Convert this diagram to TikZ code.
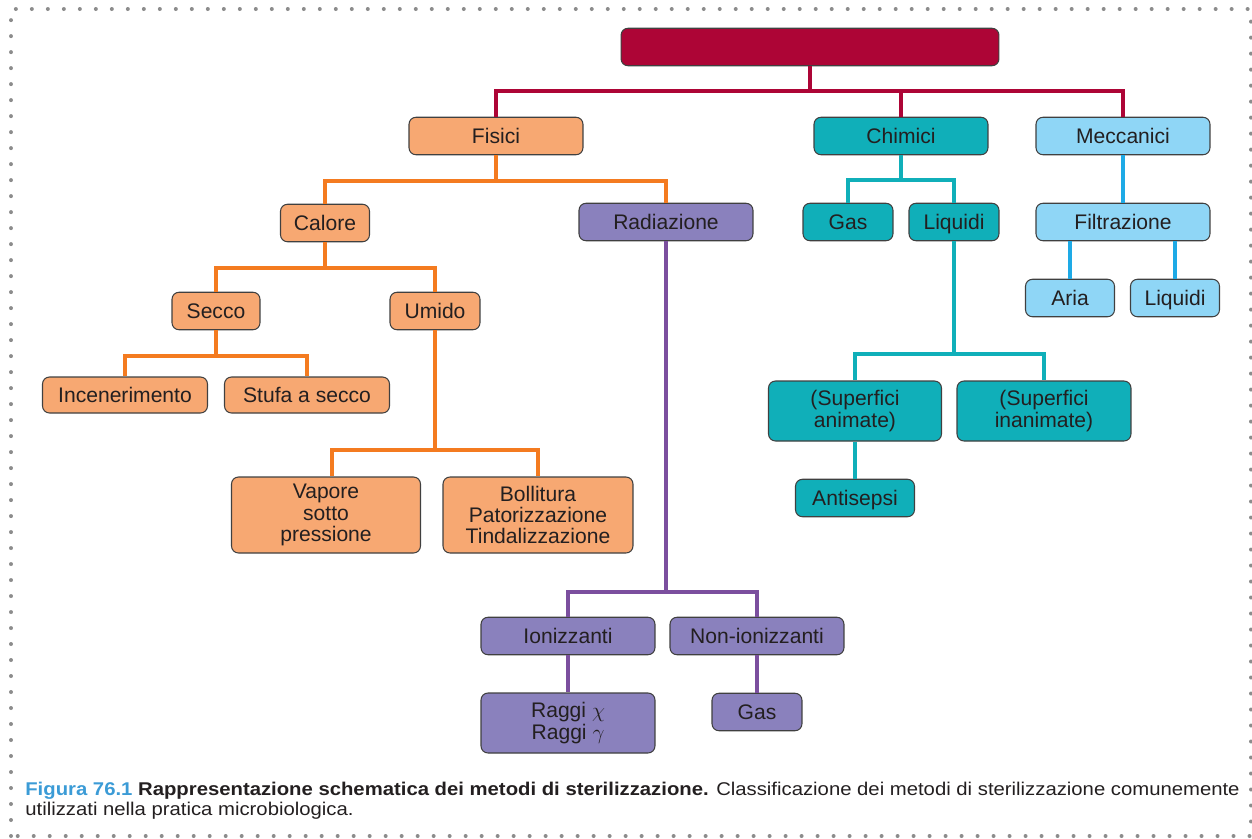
\documentclass[tikz,border=0pt]{standalone}
\usepackage{fontspec}
\setmainfont{Liberation Sans}
\newfontfamily\capfont[FakeStretch=1.1]{Liberation Sans}
\usepackage{xcolor}

\definecolor{rosso}{HTML}{AD0536}
\definecolor{arancio}{HTML}{F47B20}
\definecolor{arancioch}{HTML}{F7A872}
\definecolor{viola}{HTML}{7B4F9E}
\definecolor{violach}{HTML}{8A81BD}
\definecolor{verde}{HTML}{10AFB9}
\definecolor{azzurro}{HTML}{1EAAE6}
\definecolor{azzurroch}{HTML}{8FD6F6}
\definecolor{testo}{HTML}{231F20}
\definecolor{puntini}{HTML}{8C8C8C}
\definecolor{blufig}{HTML}{3B9BD6}

\begin{document}
\begin{tikzpicture}[x=0.02cm,y=-0.02cm,
            box/.style={draw=black!75, line width=0.6pt, rounded corners=0.14cm,
              minimum height=0.75cm, inner sep=0pt, align=center, text=testo,
              font=\fontsize{12}{12}\selectfont},
            uno/.style={box, text height=10pt, text depth=1.4pt},
            link/.style={line width=0.08cm}]
            \useasboundingbox (0,0) rectangle (1252,839);

            % cornice a puntini
            \draw[puntini, line width=0.08cm, line cap=round, dash pattern=on 0pt off 0.32cm]
              (11,836) -- (11,9) -- (1251,9) -- (1251,836) -- cycle;

            % radice
            \node[box, fill=rosso, minimum width=7.56cm] (root) at (810,47) {};

            % primo livello
            \node[uno, fill=arancioch, minimum width=3.48cm] (fisici) at (496,136) {Fisici};
            \node[uno, fill=verde, minimum width=3.48cm] (chimici) at (901,136) {Chimici};
            \node[uno, fill=azzurroch, minimum width=3.48cm] (meccanici) at (1123,136) {Meccanici};

            % fisici
            \node[uno, fill=arancioch, minimum width=1.78cm] (calore) at (325,223) {Calore};
            \node[uno, fill=violach, minimum width=3.48cm] (radiazione) at (666,222) {Radiazione};
            \node[uno, fill=arancioch, minimum width=1.76cm] (secco) at (216,311) {Secco};
            \node[uno, fill=arancioch, minimum width=1.8cm] (umido) at (435,311) {Umido};
            \node[uno, fill=arancioch, minimum width=3.3cm, minimum height=0.72cm] (incenerimento) at (125,395) {Incenerimento};
            \node[uno, fill=arancioch, minimum width=3.3cm, minimum height=0.72cm] (stufa) at (307,395) {Stufa a secco};
            \node[box, fill=arancioch, minimum width=3.78cm, minimum height=1.52cm] (vapore) at (326,515) {Vapore\\sotto\\pressione};
            \node[box, fill=arancioch, minimum width=3.8cm, minimum height=1.52cm] (bollitura) at (538,515) {Bollitura\\Patorizzazione\\Tindalizzazione};

            % radiazione
            \node[uno, fill=violach, minimum width=3.48cm] (ionizzanti) at (568,636) {Ionizzanti};
            \node[uno, fill=violach, minimum width=3.48cm] (nonion) at (757,636) {Non-ionizzanti};
            \node[box, fill=violach, minimum width=3.48cm, minimum height=1.2cm] (raggi) at (568,723) {Raggi $\chi$\\Raggi $\gamma$};
            \node[uno, fill=violach, minimum width=1.8cm] (gasR) at (757,712) {Gas};

            % chimici
            \node[uno, fill=verde, minimum width=1.8cm] (gasC) at (848,222) {Gas};
            \node[uno, fill=verde, minimum width=1.8cm] (liquidiC) at (954,222) {Liquidi};
            \node[box, fill=verde, minimum width=3.46cm, minimum height=1.2cm] (animate) at (855,411) {(Superfici\\animate)};
            \node[box, fill=verde, minimum width=3.48cm, minimum height=1.2cm] (inanimate) at (1044,411) {(Superfici\\inanimate)};
            \node[uno, fill=verde, minimum width=2.38cm] (antisepsi) at (855,498) {Antisepsi};

            % meccanici
            \node[uno, fill=azzurroch, minimum width=3.48cm] (filtrazione) at (1123,222) {Filtrazione};
            \node[uno, fill=azzurroch, minimum width=1.78cm] (aria) at (1070,298) {Aria};
            \node[uno, fill=azzurroch, minimum width=1.78cm] (liquidiM) at (1175,298) {Liquidi};

            % collegamenti
            \draw[link, rosso] (root.south) -- ++(0,25) coordinate (r1);
            \draw[link, rosso] (fisici.north) |- (r1) -| (meccanici.north);
            \draw[link, rosso] (chimici.north) -- (chimici.north |- r1);

            \draw[link, arancio] (fisici.south) -- ++(0,26) coordinate (f1);
            \draw[link, arancio] (calore.north) |- (f1) -| (radiazione.north);
            \draw[link, arancio] (calore.south) -- ++(0,26) coordinate (c1);
            \draw[link, arancio] (secco.north) |- (c1) -| (umido.north);
            \draw[link, arancio] (secco.south) -- ++(0,26) coordinate (s1);
            \draw[link, arancio] (incenerimento.north) |- (s1) -| (stufa.north);
            \draw[link, arancio] (umido.south) -- ++(0,120) coordinate (u1);
            \draw[link, arancio] ([xshift=0.12cm]vapore.north) |- (u1) -| (bollitura.north);

            \draw[link, viola] (radiazione.south) -- ++(0,351) coordinate (ra1);
            \draw[link, viola] (ionizzanti.north) |- (ra1) -| (nonion.north);
            \draw[link, viola] (ionizzanti.south) -- (raggi.north);
            \draw[link, viola] (nonion.south) -- (gasR.north);

            \draw[link, verde] (chimici.south) -- ++(0,25) coordinate (ch1);
            \draw[link, verde] (gasC.north) |- (ch1) -| (liquidiC.north);
            \draw[link, verde] (liquidiC.south) -- ++(0,113) coordinate (l1);
            \draw[link, verde] (animate.north) |- (l1) -| (inanimate.north);
            \draw[link, verde] (animate.south) -- (antisepsi.north);

            \draw[link, azzurro] (meccanici.south) -- (filtrazione.north);
            \draw[link, azzurro] (filtrazione.south -| aria.north) -- (aria.north);
            \draw[link, azzurro] (filtrazione.south -| liquidiM.north) -- (liquidiM.north);

            % didascalia
            \node[anchor=north west, align=left, inner sep=0pt, text=testo,
              font=\capfont\fontsize{10.5}{11.4}\selectfont] (didascalia) at (25,782)
              {\textbf{\color{blufig}Figura 76.1} \textbf{Rappresentazione schematica dei metodi di sterilizzazione.} Classificazione dei metodi di sterilizzazione comunemente\\
               utilizzati nella pratica microbiologica.};
        \end{tikzpicture}
\end{document}
